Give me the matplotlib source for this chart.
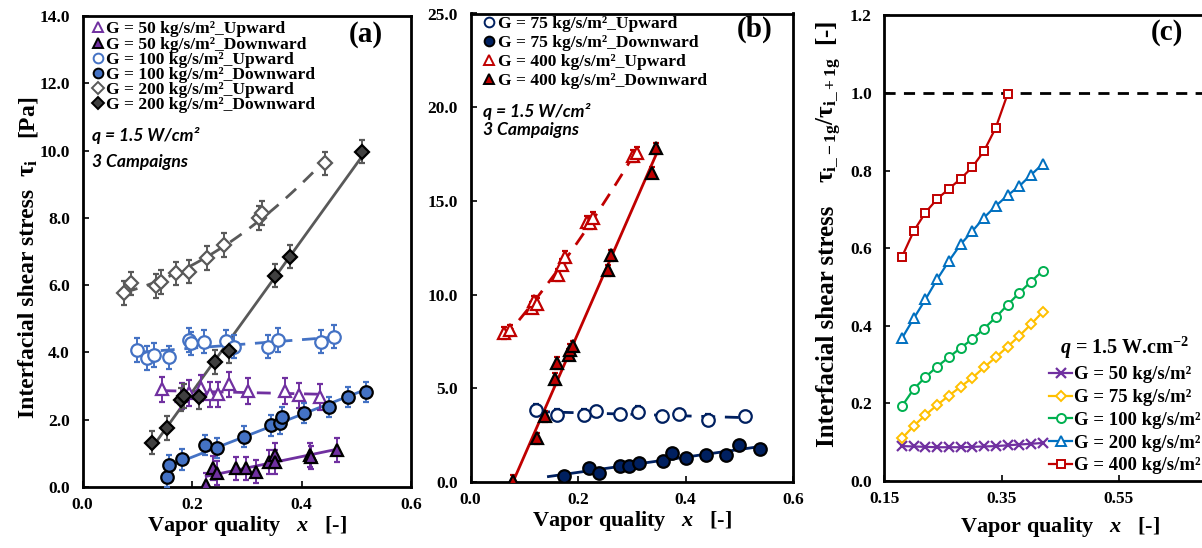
import numpy as np
import matplotlib
matplotlib.use("Agg")
import matplotlib.pyplot as plt
from matplotlib.lines import Line2D
from matplotlib.ticker import FormatStrFormatter, MultipleLocator, FixedFormatter

plt.rcParams['font.family'] = ['Liberation Serif', 'DejaVu Serif']
plt.rcParams['font.weight'] = 'bold'
plt.rcParams['mathtext.fontset'] = 'custom'
plt.rcParams['mathtext.rm'] = 'Liberation Serif'
plt.rcParams['mathtext.it'] = 'Liberation Serif:italic:bold'
plt.rcParams['mathtext.bf'] = 'Liberation Serif:bold'

# ---------------- (a) interfacial shear stress, low/medium mass flux ----------------
g50_up_x = [0.146, 0.181, 0.195, 0.216, 0.232, 0.248, 0.268, 0.302, 0.370, 0.395, 0.434]
g50_up_y = [2.90, 2.70, 2.80, 2.95, 2.75, 2.75, 3.05, 2.85, 2.85, 2.72, 2.68]
g50_dn_x = [0.226, 0.238, 0.246, 0.281, 0.299, 0.316, 0.340, 0.352, 0.351, 0.415, 0.418, 0.465]
g50_dn_y = [0.06, 0.56, 0.42, 0.55, 0.55, 0.46, 0.74, 0.95, 0.75, 0.95, 0.88, 1.10]

g100_up_x = [0.100, 0.118, 0.130, 0.158, 0.195, 0.198, 0.222, 0.262, 0.277, 0.338, 0.357, 0.436, 0.460]
g100_up_y = [4.07, 3.83, 3.93, 3.85, 4.37, 4.27, 4.32, 4.33, 4.17, 4.17, 4.37, 4.32, 4.47]
g100_dn_x = [0.154, 0.158, 0.182, 0.223, 0.245, 0.295, 0.344, 0.360, 0.364, 0.404, 0.451, 0.485, 0.518]
g100_dn_y = [0.29, 0.64, 0.82, 1.26, 1.16, 1.50, 1.83, 1.89, 2.08, 2.19, 2.39, 2.68, 2.83]

g200_up_x = [0.076, 0.088, 0.134, 0.143, 0.171, 0.194, 0.228, 0.259, 0.322, 0.328, 0.443]
g200_up_y = [5.76, 6.05, 5.98, 6.10, 6.35, 6.40, 6.80, 7.19, 8.00, 8.15, 9.62]
g200_dn_x = [0.127, 0.154, 0.180, 0.185, 0.212, 0.242, 0.267, 0.352, 0.379, 0.511]
g200_dn_y = [1.32, 1.76, 2.60, 2.70, 2.68, 3.71, 4.05, 6.28, 6.85, 9.97]

err_a = {'g50_up': 0.38, 'g50_dn': 0.35, 'g100_up': 0.35, 'g100_dn': 0.30,
         'g200_up': 0.35, 'g200_dn': 0.35}

# ---------------- (b) interfacial shear stress, G = 75 and 400 ----------------
g75_up_x = [0.122, 0.161, 0.211, 0.233, 0.279, 0.311, 0.357, 0.387, 0.442, 0.510]
g75_up_y = [3.84, 3.60, 3.58, 3.78, 3.62, 3.74, 3.50, 3.62, 3.32, 3.50]
g75_dn_x = [0.174, 0.221, 0.239, 0.279, 0.295, 0.314, 0.358, 0.374, 0.400, 0.438, 0.475, 0.500, 0.539]
g75_dn_y = [0.32, 0.76, 0.46, 0.88, 0.88, 1.00, 1.12, 1.53, 1.30, 1.44, 1.44, 1.97, 1.74]

g400_up_x = [0.062, 0.074, 0.115, 0.119, 0.123, 0.163, 0.170, 0.175, 0.216, 0.222, 0.228, 0.302, 0.310]
g400_up_y = [7.95, 8.10, 9.30, 9.65, 9.50, 11.05, 11.60, 12.00, 13.90, 13.80, 14.10, 17.40, 17.55]
g400_dn_x = [0.079, 0.124, 0.139, 0.158, 0.160, 0.183, 0.186, 0.191, 0.255, 0.262, 0.337, 0.345]
g400_dn_y = [0.05, 2.33, 3.50, 5.50, 6.35, 6.80, 7.05, 7.25, 11.30, 12.10, 16.50, 17.80]

err_b = {'g75_up': 0.30, 'g75_dn': 0.15, 'g400_up': 0.30, 'g400_dn': 0.30}

# ---------------- (c) ratio of downward to upward shear stress ----------------
ratio_x = [0.18, 0.20, 0.22, 0.24, 0.26, 0.28, 0.30, 0.32, 0.34, 0.36, 0.38, 0.40, 0.42]
ratio_g50 = [0.090, 0.089, 0.088, 0.087, 0.087, 0.087, 0.088, 0.089, 0.090, 0.092, 0.094, 0.096, 0.098]
ratio_g75 = [0.110, 0.142, 0.170, 0.196, 0.220, 0.243, 0.266, 0.293, 0.319, 0.346, 0.374, 0.404, 0.436]
ratio_g100 = [0.193, 0.237, 0.268, 0.295, 0.319, 0.343, 0.366, 0.393, 0.422, 0.454, 0.485, 0.514, 0.542]
ratio_g200 = [0.368, 0.419, 0.468, 0.520, 0.567, 0.610, 0.644, 0.679, 0.709, 0.736, 0.760, 0.789, 0.817]
ratio_g400_x = [0.18, 0.20, 0.22, 0.24, 0.26, 0.28, 0.30, 0.32, 0.34, 0.36]
ratio_g400 = [0.578, 0.644, 0.692, 0.727, 0.753, 0.779, 0.809, 0.851, 0.911, 0.997]
ratio_ticks = [0.15, 0.35, 0.55, 0.75]
ratio_tick_labels = ['0.15', '0.35', '0.55', '']

# colours
PURPLE = '#7030A0'
BLUE = '#4472C4'
GRAY = '#595959'
DKGRAY = '#404040'
NAVY = '#002060'
RED = '#C00000'
C_YEL = '#FFC000'
C_GRN = '#00B050'
C_BLU = '#0070C0'

W, H = 1202, 548
fig = plt.figure(figsize=(W / 100, H / 100), dpi=100)


def px_axes(left, right, top, bottom):
    return fig.add_axes([left / W, (H - bottom) / H, (right - left) / W, (bottom - top) / H])


def style_axes(ax, xfmt, yfmt):
    for s in ax.spines.values():
        s.set_linewidth(2.0)
        s.set_color('black')
    ax.tick_params(direction='in', length=4, width=1.2, labelsize=12.5)
    ax.tick_params(axis='x', pad=7)
    ax.tick_params(axis='y', pad=9)
    if xfmt is not None:
        ax.xaxis.set_major_formatter(FormatStrFormatter(xfmt))
    ax.yaxis.set_major_formatter(FormatStrFormatter(yfmt))
    for lab in ax.get_xticklabels() + ax.get_yticklabels():
        lab.set_fontweight('bold')


def series(ax, x, y, err, color, marker, filled, deg, ls, ms=8, face=None, xfit=None):
    x = np.asarray(x, float)
    y = np.asarray(y, float)
    coef = np.polyfit(x, y, deg)
    lo, hi = (x.min(), x.max()) if xfit is None else xfit
    xx = np.linspace(lo, hi, 120)
    ax.plot(xx, np.polyval(coef, xx), color=color, ls=ls, lw=2.0, zorder=2)
    ax.errorbar(x, y, yerr=err, fmt=marker, ms=ms,
                mfc=(face or color) if filled else 'white',
                mec='black' if filled else color, mew=1.6,
                ecolor=color, elinewidth=1.4, capsize=2.5, capthick=1.4, zorder=3)


def vlabel(x_base, y_center, s, size, weight='bold'):
    """Rotated y-axis title piece, placed in figure pixels by its baseline."""
    fig.text(x_base / W, (H - y_center) / H, s, rotation=90, rotation_mode='anchor',
             ha='center', va='baseline', fontsize=size, fontweight=weight,
             family='Liberation Serif')


DASH = (0, (5, 3.5))
XLABEL = r'Vapor quality   $x$   $\mathrm{[' + '\u2010' + r']}$'
XL_SIZE = 16

# ---------------- panel (a) ----------------
ax_a = px_axes(82.5, 411, 16, 487)
series(ax_a, g200_up_x, g200_up_y, err_a['g200_up'], GRAY, 'D', False, 2, DASH, ms=7)
series(ax_a, g100_up_x, g100_up_y, err_a['g100_up'], BLUE, 'o', False, 1, DASH, ms=9)
series(ax_a, g50_up_x, g50_up_y, err_a['g50_up'], PURPLE, '^', False, 1, DASH, ms=8)
series(ax_a, g200_dn_x, g200_dn_y, err_a['g200_dn'], GRAY, 'D', True, 1, '-', ms=7, face=DKGRAY)
series(ax_a, g100_dn_x, g100_dn_y, err_a['g100_dn'], BLUE, 'o', True, 1, '-', ms=9)
series(ax_a, g50_dn_x, g50_dn_y, err_a['g50_dn'], PURPLE, '^', True, 1, '-', ms=8)
ax_a.set_xlim(0, 0.6)
ax_a.set_ylim(0, 14)
ax_a.xaxis.set_major_locator(MultipleLocator(0.2))
ax_a.yaxis.set_major_locator(MultipleLocator(2))
style_axes(ax_a, '%.1f', '%.1f')
ax_a.set_xlabel(XLABEL, fontsize=XL_SIZE, fontweight='bold', labelpad=1)
vlabel(34, 303, 'Interfacial shear stress', 17)
vlabel(34, 168, r'$\mathbf{\tau}_{\mathbf{i}}$', 18)
vlabel(34, 118, r'$\mathrm{[Pa]}$', 17)


def mk(marker, color, filled, face=None, ms=7):
    return Line2D([], [], ls='none', marker=marker, ms=ms,
                  mfc=(face or color) if filled else 'white',
                  mec='black' if filled else color, mew=1.4)


ax_a.legend(
    [mk('^', PURPLE, False), mk('^', PURPLE, True), mk('o', BLUE, False),
     mk('o', BLUE, True), mk('D', GRAY, False, ms=6), mk('D', GRAY, True, face=DKGRAY, ms=6)],
    ['G = 50 kg/s/m²_Upward', 'G = 50 kg/s/m²_Downward', 'G = 100 kg/s/m²_Upward',
     'G = 100 kg/s/m²_Downward', 'G = 200 kg/s/m²_Upward', 'G = 200 kg/s/m²_Downward'],
    loc='upper left', bbox_to_anchor=(-0.01, 1.015), frameon=False,
    handlelength=0.7, handletextpad=0.15, labelspacing=-0.06, borderpad=0.2,
    prop={'family': 'Liberation Serif', 'weight': 'bold', 'size': 12.6})
SANS = dict(family='Lato', style='italic', fontweight='bold', fontsize=12.6)
ax_a.text(0.029, (487 - 135) / 471, 'q = 1.5 W/cm²', transform=ax_a.transAxes, va='center', **SANS)
ax_a.text(0.029, (487 - 162) / 471, '3 Campaigns', transform=ax_a.transAxes, va='center', **SANS)
ax_a.text(0.915, 0.99, '(a)', transform=ax_a.transAxes, ha='right', va='top',
          fontsize=21, fontweight='bold')

# ---------------- panel (b) ----------------
ax_b = px_axes(470.5, 793, 13.5, 482)
series(ax_b, g400_up_x, g400_up_y, err_b['g400_up'], RED, '^', False, 2, DASH, ms=8)
series(ax_b, g75_up_x, g75_up_y, err_b['g75_up'], NAVY, 'o', False, 1, DASH, ms=9)
series(ax_b, g400_dn_x, g400_dn_y, err_b['g400_dn'], RED, '^', True, 1, '-', ms=8)
series(ax_b, g75_dn_x, g75_dn_y, err_b['g75_dn'], NAVY, 'o', True, 1, '-', ms=9,
       xfit=(0.145, max(g75_dn_x)))
ax_b.set_xlim(0, 0.6)
ax_b.set_ylim(0, 25)
ax_b.xaxis.set_major_locator(MultipleLocator(0.2))
ax_b.yaxis.set_major_locator(MultipleLocator(5))
style_axes(ax_b, '%.1f', '%.1f')
ax_b.set_xlabel(XLABEL, fontsize=XL_SIZE, fontweight='bold', labelpad=1)
ax_b.legend(
    [mk('o', NAVY, False), mk('o', NAVY, True), mk('^', RED, False), mk('^', RED, True)],
    ['G = 75 kg/s/m²_Upward', 'G = 75 kg/s/m²_Downward', 'G = 400 kg/s/m²_Upward',
     'G = 400 kg/s/m²_Downward'],
    loc='upper left', bbox_to_anchor=(0.0, 1.022), frameon=False,
    handlelength=0.7, handletextpad=0.15, labelspacing=0.16, borderpad=0.2,
    prop={'family': 'Liberation Serif', 'weight': 'bold', 'size': 12.6})
ax_b.text(0.039, (482 - 111) / 468.5, 'q = 1.5 W/cm²', transform=ax_b.transAxes, va='center', **SANS)
ax_b.text(0.039, (482 - 130) / 468.5, '3 Campaigns', transform=ax_b.transAxes, va='center', **SANS)
ax_b.text(0.935, 0.995, '(b)', transform=ax_b.transAxes, ha='right', va='top',
          fontsize=21, fontweight='bold')

# ---------------- panel (c) ----------------
ax_c = px_axes(884.4, 884.4 + 0.6 * 586.5, 15.4, 481)
ax_c.axhline(1.0, color='black', ls=(0, (4, 3)), lw=2.0, zorder=1)
LW_C = 1.6
ax_c.plot(ratio_x, ratio_g50, color=PURPLE, marker='x', ms=6.5, mew=1.6, lw=LW_C,
          label='G = 50 kg/s/m²')
ax_c.plot(ratio_x, ratio_g75, color=C_YEL, marker='D', ms=5, mfc='white', mew=1.4, lw=LW_C,
          label='G = 75 kg/s/m²')
ax_c.plot(ratio_x, ratio_g100, color=C_GRN, marker='o', ms=6.5, mfc='white', mew=1.4, lw=LW_C,
          label='G = 100 kg/s/m²')
ax_c.plot(ratio_x, ratio_g200, color=C_BLU, marker='^', ms=6.5, mfc='white', mew=1.4, lw=LW_C,
          label='G = 200 kg/s/m²')
ax_c.plot(ratio_g400_x, ratio_g400, color=RED, marker='s', ms=6, mfc='white', mew=1.4, lw=LW_C,
          label='G = 400 kg/s/m²')
ax_c.set_xlim(0.15, 0.75)
ax_c.set_ylim(0, 1.2)
ax_c.set_xticks(ratio_ticks)
ax_c.xaxis.set_major_formatter(FixedFormatter(ratio_tick_labels))
ax_c.yaxis.set_major_locator(MultipleLocator(0.2))
style_axes(ax_c, None, '%.1f')
ax_c.set_xlabel(XLABEL, fontsize=XL_SIZE, fontweight='bold', labelpad=6)
vlabel(834, 326, 'Interfacial shear stress', 18)
vlabel(834, 120, r'$\mathbf{\tau}_{\mathbf{i\_-1g}}\mathbf{/\tau}_{\mathbf{i\_+1g}}$', 18)
vlabel(834, 33, r'$\mathrm{[' + '\u2010' + r']}$', 18)
ax_c.legend(loc='upper left', bbox_to_anchor=(1040 / W, (H - 325) / H),
            bbox_transform=fig.transFigure, frameon=False,
            handlelength=1.2, handletextpad=0.1, labelspacing=0.3, borderpad=0,
            title=r'$q$ = 1.5 W.cm$\mathbf{^{-2}}$',
            prop={'family': 'Liberation Serif', 'weight': 'bold', 'size': 13.5},
            title_fontproperties={'family': 'Liberation Serif', 'weight': 'bold',
                                  'size': 14.5})
ax_c.text(1167, H - 33, '(c)', transform=None, ha='center', va='center',
          fontsize=21, fontweight='bold')

fig.savefig('out.png', dpi=100)
